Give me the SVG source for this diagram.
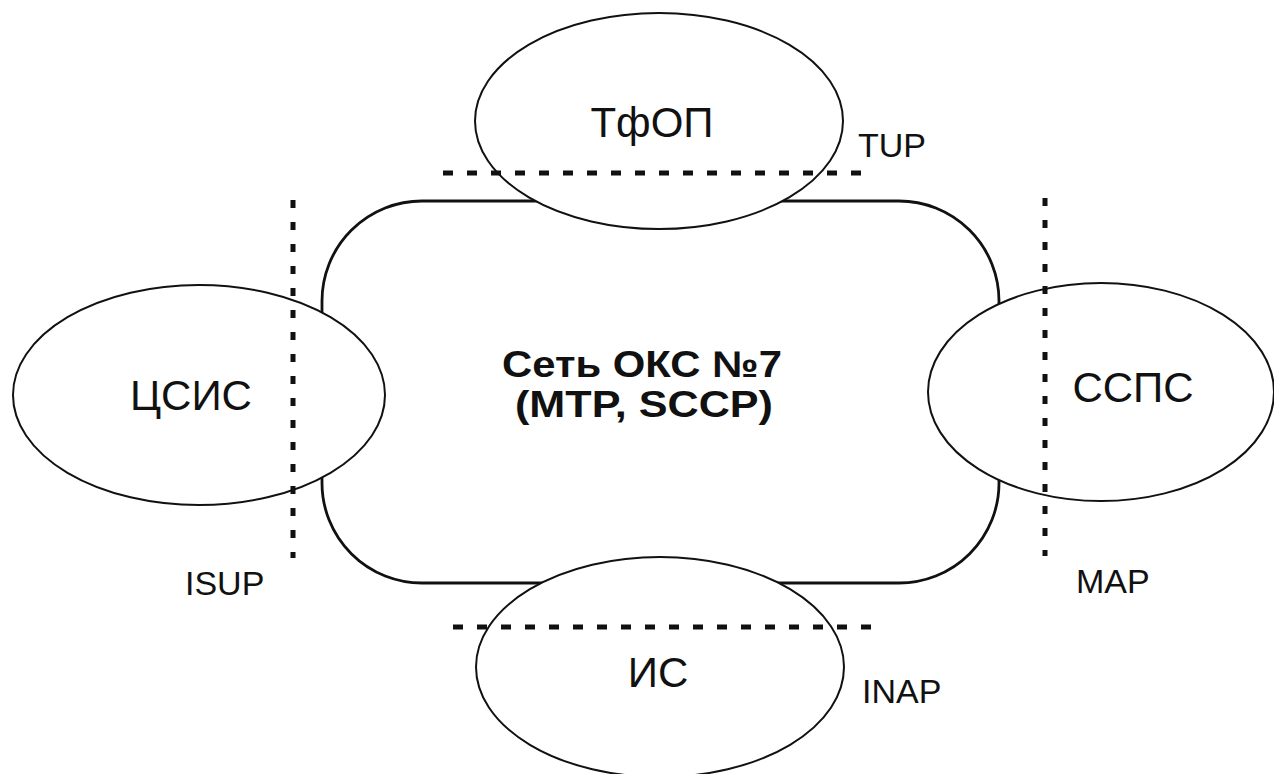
<svg xmlns="http://www.w3.org/2000/svg" width="1274" height="774" viewBox="0 0 1274 774">
<style>
.bg{fill:#fff}
.net{fill:#fff;stroke:#111;stroke-width:2.8}
.ell{fill:#fff;stroke:#111;stroke-width:2}
.dh{fill:none;stroke:#111;stroke-width:5;stroke-dasharray:10 14}
.dv{fill:none;stroke:#111;stroke-width:5;stroke-dasharray:8 14}
.lbl{font-family:"Liberation Sans",Arial,sans-serif;font-size:42px;fill:#111;text-anchor:middle}
.proto{font-family:"Liberation Sans",Arial,sans-serif;font-size:34px;fill:#111}
.ctr{font-family:"Liberation Sans",Arial,sans-serif;font-size:37px;font-weight:bold;fill:#111;text-anchor:middle}
</style>
<rect class="bg" x="0" y="0" width="1274" height="774"/>
<g id="net">
<rect class="net" x="322" y="201" width="677" height="382" rx="100" ry="100"/>
</g>
<g id="tfop">
<ellipse class="ell" cx="659" cy="121" rx="184" ry="108"/>
</g>
<g id="tsis">
<ellipse class="ell" cx="199" cy="395" rx="186" ry="110"/>
</g>
<g id="ssps">
<ellipse class="ell" cx="1101" cy="392" rx="173" ry="109"/>
</g>
<g id="is">
<ellipse class="ell" cx="660" cy="667" rx="184" ry="110"/>
</g>
<g id="connectors">
<line class="dh" x1="443" y1="173" x2="872" y2="173"/>
<line class="dh" x1="453" y1="627" x2="882" y2="627"/>
<line class="dv" x1="293" y1="200" x2="293" y2="558"/>
<line class="dv" x1="1045" y1="198" x2="1045" y2="556"/>
</g>
<g id="labels">
<text class="lbl" x="652" y="137">ТфОП</text>
<text class="lbl" x="191" y="410">ЦСИС</text>
<text class="lbl" x="1133" y="402">ССПС</text>
<text class="lbl" x="658" y="687">ИС</text>
<text class="ctr" x="642" y="377" textLength="280" lengthAdjust="spacingAndGlyphs">Сеть ОКС №7</text>
<text class="ctr" x="644" y="417" textLength="258" lengthAdjust="spacingAndGlyphs">(MTP, SCCP)</text>
<text class="proto" x="858" y="157">TUP</text>
<text class="proto" x="185" y="595">ISUP</text>
<text class="proto" x="1076" y="593">MAP</text>
<text class="proto" x="862" y="703">INAP</text>
</g>
</svg>
